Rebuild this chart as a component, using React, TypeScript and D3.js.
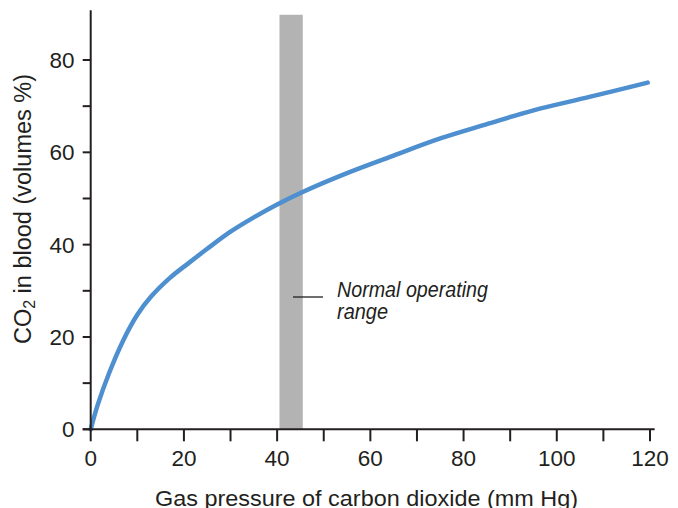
import React from "react";
import * as d3 from "d3";

const pressure = [0, 1.5, 4, 7, 10, 13, 17, 21, 25, 30, 35, 40, 45, 55, 65, 75, 85, 95, 107, 119.5];
const co2 = [0, 5.3, 12.3, 19.3, 24.8, 28.8, 32.8, 36, 39.1, 42.8, 45.9, 48.7, 51.2, 55.5, 59.3, 63, 66.1, 69.1, 72, 75.1];
const xMajorTicks = [0, 20, 40, 60, 80, 100, 120];
const xMinorTicks = [10, 30, 50, 70, 90, 110];
const yMajorTicks = [0, 20, 40, 60, 80];
const yMinorTicks = [10, 30, 50, 70];
const normalRange = [40.5, 45.5];
const xTitle = "Gas pressure of carbon dioxide (mm Hg)";
const annotationLines = ["Normal operating", "range"];
const annotationWidths = [151, 51];

const W = 678;
const H = 508;
const TEXT = "#231f20";
const FONT = "'Liberation Sans', Arial, Helvetica, sans-serif";

export default function App() {
  const x = d3.scaleLinear().domain([0, 120]).range([90.7, 650]);
  const y = d3.scaleLinear().domain([0, 80]).range([429.3, 60]);
  const data = pressure.map((p, i) => ({ p, v: co2[i] }));
  const line = d3
    .line<{ p: number; v: number }>()
    .x((d) => x(d.p))
    .y((d) => y(d.v))
    .curve(d3.curveCatmullRom.alpha(0.5));

  const x0 = x(0);
  const y0 = y(0);
  const tickLen = 12;

  return (
    <svg
      width={W}
      height={H}
      style={{ position: "absolute", left: 0, top: 0, background: "#fff" }}
      fontFamily={FONT}
    >
      {/* normal operating band */}
      <rect
        x={x(normalRange[0])}
        y={y(89.8)}
        width={x(normalRange[1]) - x(normalRange[0])}
        height={y0 - y(89.8)}
        fill="#b3b3b3"
      />
      {/* annotation */}
      <line x1={293} x2={323} y1={297} y2={297} stroke={TEXT} strokeWidth={1.3} />
      {annotationLines.map((t, i) => (
        <text
          key={t}
          x={337}
          y={296.5 + i * 22.5}
          fontSize={22.5}
          fontStyle="italic"
          fill={TEXT}
          textLength={annotationWidths[i]}
          lengthAdjust="spacingAndGlyphs"
        >
          {t}
        </text>
      ))}

      {/* curve */}
      <path d={line(data) || ""} fill="none" stroke="#4e8fcf" strokeWidth={4.5} strokeLinecap="round" />

      {/* y axis */}
      <line x1={x0} x2={x0} y1={y(90.8)} y2={y0 + 1} stroke={TEXT} strokeWidth={2} />
      {yMajorTicks.concat(yMinorTicks).map((t) => (
        <line key={"yt" + t} x1={x0 - 8} x2={x0} y1={y(t)} y2={y(t)} stroke={TEXT} strokeWidth={2} />
      ))}
      {yMajorTicks.map((t) => (
        <text key={"yl" + t} x={74.5} y={y(t)} dy="0.36em" textAnchor="end" fontSize={22.5} fill={TEXT}>
          {t}
        </text>
      ))}

      {/* x axis */}
      <line x1={x0 - 8} x2={x(121)} y1={y0} y2={y0} stroke={TEXT} strokeWidth={2} />
      {xMajorTicks.concat(xMinorTicks).map((t) => (
        <line key={"xt" + t} x1={x(t)} x2={x(t)} y1={y0} y2={y0 + tickLen} stroke={TEXT} strokeWidth={2} />
      ))}
      {xMajorTicks.map((t) => (
        <text key={"xl" + t} x={x(t)} y={466} textAnchor="middle" fontSize={22.5} fill={TEXT}>
          {t}
        </text>
      ))}

      {/* axis titles */}
      <text x={366.5} y={505.5} textAnchor="middle" fontSize={22} fill={TEXT} textLength={423} lengthAdjust="spacingAndGlyphs">
        {xTitle}
      </text>
      <text
        transform="translate(31,209) rotate(-90)"
        textAnchor="middle"
        fontSize={23.5}
        fill={TEXT}
      >
        CO<tspan fontSize={16} dy={4}>2</tspan>
        <tspan dy={-4}> in blood (volumes %)</tspan>
      </text>
    </svg>
  );
}
